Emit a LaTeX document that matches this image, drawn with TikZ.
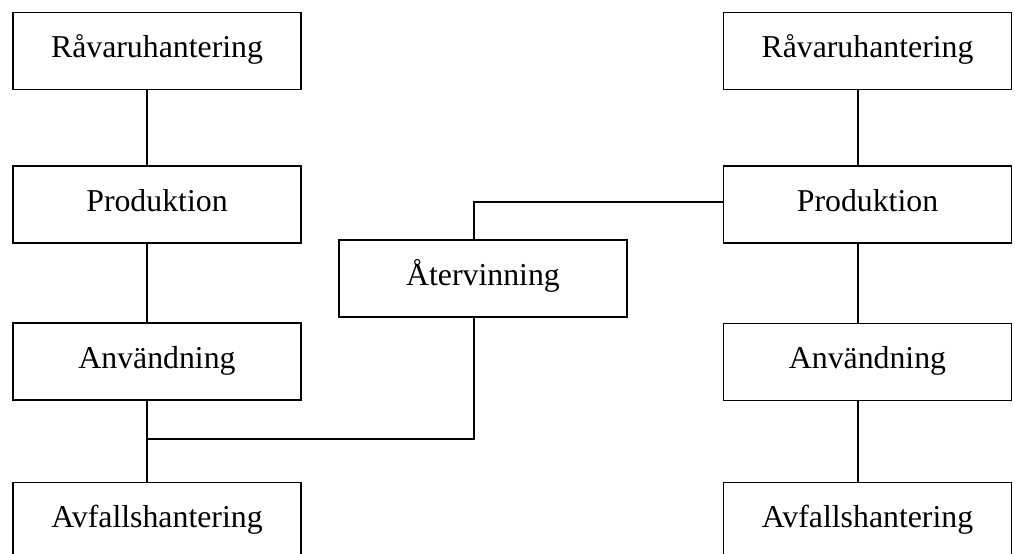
\documentclass[tikz,border=0pt]{standalone}
\usepackage{fontspec}
\setmainfont{Liberation Serif}
\usetikzlibrary{positioning}

\begin{document}
\begin{tikzpicture}[
        x=0.5pt, y=-0.5pt,
        fasbox/.style={draw, line width=0.75pt, minimum width=144pt, minimum height=38.5pt, inner sep=0pt, text height=0.9em, text depth=0.24em, font=\fontsize{15.9}{19}\selectfont},
        linje/.style={line width=0.75pt}
    ]
        \useasboundingbox (0,0) rectangle (1015,553);
        \clip (0,0) rectangle (1015,553);

        % vänster kedja
        \node[fasbox] (ravL) at (157,51) {Råvaruhantering};
        \node[fasbox] (prodL) at (157,204.5) {Produktion};
        \node[fasbox] (anvL) at (157,361.5) {Användning};
        \node[fasbox] (avfL) at (157,521) {Avfallshantering};

        % återvinning i mitten
        \node[fasbox] (atv) at (483,278.5) {Återvinning};

        % höger kedja
        \node[fasbox] (ravR) at (867.5,51) {Råvaruhantering};
        \node[fasbox] (prodR) at (867.5,204.5) {Produktion};
        \node[fasbox] (anvR) at (867.5,362) {Användning};
        \node[fasbox] (avfR) at (867.5,521) {Avfallshantering};

        \coordinate (knut) at (147,439);

        \draw[linje] ([xshift=-5pt]ravL.south) -- ([xshift=-5pt]prodL.north);
        \draw[linje] ([xshift=-5pt]prodL.south) -- ([xshift=-5pt]anvL.north);
        \draw[linje] ([xshift=-5pt]anvL.south) -- ([xshift=-5pt]avfL.north);

        \draw[linje] ([xshift=-4.75pt]ravR.south) -- ([xshift=-4.75pt]prodR.north);
        \draw[linje] ([xshift=-4.75pt]prodR.south) -- ([xshift=-4.75pt]anvR.north);
        \draw[linje] ([xshift=-4.75pt]anvR.south) -- ([xshift=-4.75pt]avfR.north);

        % kopplingar via återvinning
        \draw[linje] ([xshift=-4.5pt]atv.south) |- (knut);
        \draw[linje] ([xshift=-4.5pt]atv.north) |- ([yshift=1.25pt]prodR.west);
    \end{tikzpicture}
\end{document}
